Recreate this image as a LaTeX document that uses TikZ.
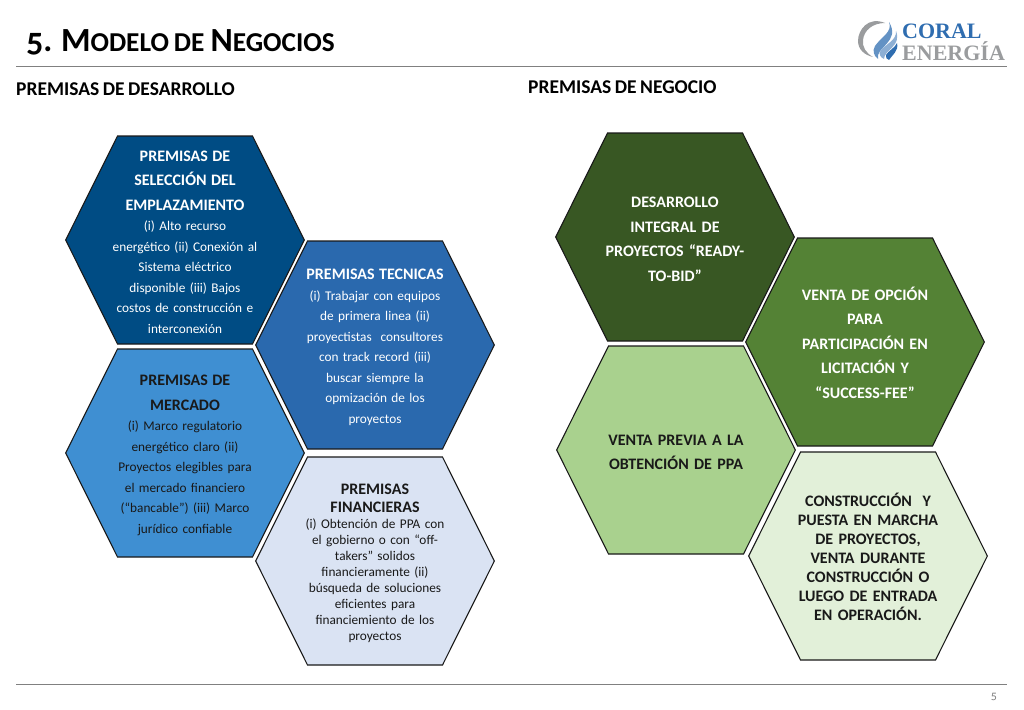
\documentclass[tikz,border=0pt]{standalone}
\usepackage{fontspec}
\setmainfont{Carlito}[Numbers=OldStyle,WordSpace=0.8]
\newfontfamily\logofont{Liberation Serif}
\usetikzlibrary{shapes.symbols}
\tikzset{
  hexa/.style={shape=signal,signal to=west and east,signal pointer angle=127,
    draw=black!90,line width=1.1pt,text width=150pt,inner xsep=-7.5pt,inner ysep=0pt,
    minimum height=208pt,align=center,font=\fontsize{13.3}{20.5}\selectfont,
    execute at begin node={\rule{0pt}{15pt}}},
  cabeza/.style={font=\fontsize{19.5}{22}\selectfont\bfseries,anchor=base west,inner sep=0pt},
  raya/.style={draw=black!50,line width=.9pt}
}
\definecolor{hexone}{HTML}{004C84}
\definecolor{hextwo}{HTML}{2A69AE}
\definecolor{hexthree}{HTML}{3F8FD2}
\definecolor{hexfour}{HTML}{DAE3F3}
\definecolor{hexfive}{HTML}{385723}
\definecolor{hexsix}{HTML}{548235}
\definecolor{hexseven}{HTML}{A9D18E}
\definecolor{hexeight}{HTML}{E2F0D9}
\definecolor{logoblue}{HTML}{2F6DB0}
\definecolor{logogray}{HTML}{9A9C9E}
\newcommand{\tit}[1]{{\fontsize{16}{24.5}\selectfont\bfseries #1\par}}
\begin{document}
\begin{tikzpicture}[x=1pt,y=-1pt]
\useasboundingbox (0,0) rectangle (1024,709);
\node[inner sep=0pt,anchor=base west] (titulo) at (26,52) {\fontsize{33.8}{33}\selectfont\bfseries 5. M{\fontsize{27.3}{33}\selectfont ODELO DE} N{\fontsize{27.3}{33}\selectfont EGOCIOS}};
\coordinate (r1a) at (16,66.5);
\coordinate (r1b) at (1007,66.5);
\coordinate (r2a) at (16,684);
\coordinate (r2b) at (1007,684);
\draw[raya] (r1a) -- (r1b);
\draw[raya] (r2a) -- (r2b);
\node[cabeza] (desarrollo) at (16,95) {PREMISAS DE DESARROLLO};
\node[cabeza] (negocio) at (528,93) {PREMISAS DE NEGOCIO};

\node[hexa,fill=hexone,text=white] (seleccion) at (185,240) {\tit{PREMISAS DE\\SELECCIÓN DEL\\EMPLAZAMIENTO}(i) Alto recurso\\energético (ii) Conexión al\\Sistema eléctrico\\disponible (iii) Bajos\\costos de construcción e\\interconexión};
\node[hexa,fill=hextwo,text=white] (tecnicas) at (375,345) {\tit{PREMISAS TECNICAS}(i) Trabajar con equipos\\de primera linea (ii)\\proyectistas\ \ consultores\\con track record (iii)\\buscar siempre la\\opmización de los\\proyectos};
\node[hexa,fill=hexthree,text=black!90] (mercado) at (185,453) {\tit{PREMISAS DE\\MERCADO}(i) Marco regulatorio\\energético claro (ii)\\Proyectos elegibles para\\el mercado financiero\\(“bancable”) (iii) Marco\\jurídico confiable};
\node[hexa,fill=hexfour,text=black!90,font=\fontsize{13.3}{16}\selectfont] (financieras) at (375,561) {{\fontsize{16}{18.5}\selectfont\bfseries PREMISAS\\FINANCIERAS\par}(i) Obtención de PPA con\\el gobierno o con “off-\\takers” solidos\\financieramente (ii)\\búsqueda de soluciones\\eficientes para\\financiemiento de los\\proyectos};

\node[hexa,fill=hexfive,text=white,font=\fontsize{16}{24.5}\selectfont\bfseries] (integral) at (675,237) {DESARROLLO\\INTEGRAL DE\\PROYECTOS “READY-\\TO-BID”};
\node[hexa,fill=hexsix,text=white,font=\fontsize{16}{24.5}\selectfont\bfseries] (opcion) at (865,342) {VENTA DE OPCIÓN\\PARA\\PARTICIPACIÓN EN\\LICITACIÓN Y\\“SUCCESS-FEE”};
\node[hexa,fill=hexseven,text=black!90,font=\fontsize{16}{24.5}\selectfont\bfseries] (previa) at (676,450) {VENTA PREVIA A LA\\OBTENCIÓN DE PPA};
\node[hexa,fill=hexeight,text=black!90,font=\fontsize{16}{19}\selectfont\bfseries] (construccion) at (868,556) {CONSTRUCCIÓN\ \ Y\\PUESTA EN MARCHA\\DE PROYECTOS,\\VENTA DURANTE\\CONSTRUCCIÓN O\\LUEGO DE ENTRADA\\EN OPERACIÓN.};

\fill[logogray] (885,23) .. controls (868,16) and (858,30) .. (858,41) .. controls (858,49) and (864,55) .. (873,57) .. controls (866,53) and (862,47) .. (863,40) .. controls (864,30) and (873,23) .. (885,23);
\fill[logoblue!75] (889,22) .. controls (893,32) and (881,37) .. (875,46) .. controls (872,51) and (874,56) .. (878,59) .. controls (875,47) and (901,42) .. (889,22);
\fill[logoblue!55] (896,31) .. controls (897,40) and (886,44) .. (881,50) .. controls (878,54) and (880,57) .. (884,59) .. controls (884,50) and (902,46) .. (896,31);
\fill[logoblue] (897,43) .. controls (895,48) and (888,51) .. (886,55) .. controls (885,58) and (887,59) .. (889,60) .. controls (892,55) and (899,51) .. (897,43);
\node[inner sep=0pt,anchor=base west,text=logoblue] (coral) at (902,38) {\logofont\bfseries\fontsize{22}{23}\selectfont CORAL};
\node[inner sep=0pt,anchor=base west,text=logogray] (energia) at (902,60) {\logofont\bfseries\fontsize{22}{23}\selectfont ENERGÍA};
\node[inner sep=0pt,text=black!50,font=\fontsize{12}{12}\selectfont] (pagina) at (994,697) {5};
\end{tikzpicture}
\end{document}
